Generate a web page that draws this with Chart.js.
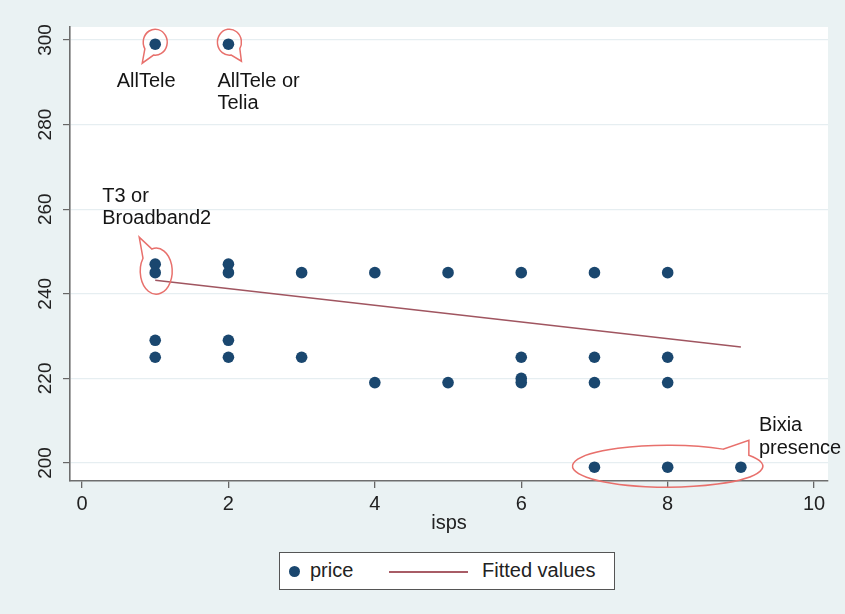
<!DOCTYPE html>
<html><head><meta charset="utf-8">
<script src="https://cdn.jsdelivr.net/npm/chart.js@4.4.1/dist/chart.umd.min.js"></script>
<style>
html,body{margin:0;padding:0;background:#eaf2f3;}
#wrap{position:relative;width:845px;height:614px;overflow:hidden;}
canvas{display:block;}
#legend{position:absolute;left:279px;top:552px;width:334px;height:36px;background:#fff;border:1px solid #555;font-family:'Liberation Sans',Arial,sans-serif;font-size:20px;color:#222;}
#legend .dot{position:absolute;left:9px;top:13px;width:11px;height:11px;border-radius:50%;background:#1a476f;}
#legend .t1{position:absolute;left:30px;top:6px;}
#legend .ln{position:absolute;left:109px;top:18px;width:79px;height:2px;background:#a85c66;}
#legend .t2{position:absolute;left:202px;top:6px;}
</style></head>
<body>
<div id="wrap">
<canvas id="c" width="845" height="614"></canvas>
<div id="legend"><span class="dot"></span><span class="t1" id="lg1"></span><span class="ln"></span><span class="t2" id="lg2"></span></div>
</div>
<script>
// ---- data ----
const isps  = [1,1,1,1,1, 2,2,2,2,2, 3,3, 4,4, 5,5, 6,6,6,6, 7,7,7,7, 8,8,8,8, 9];
const price = [299,247,245,229,225, 299,247,245,229,225, 245,225, 245,219, 245,219, 245,225,220,219, 245,225,219,199, 245,225,219,199, 199];
const fitX = [1, 9];
const fitY = [243.2, 227.4];
const xTicks = [0, 2, 4, 6, 8, 10];
const yTicks = [200, 220, 240, 260, 280, 300];
const xTitle = 'isps';
const seriesNames = ['price', 'Fitted values'];
const notes = [
  {lines:['AllTele'], x:1, y:299},
  {lines:['AllTele or','Telia'], x:2, y:299},
  {lines:['T3 or','Broadband2'], x:1, y:247},
  {lines:['Bixia','presence'], x:9, y:199}
];

document.getElementById('lg1').textContent = seriesNames[0];
document.getElementById('lg2').textContent = seriesNames[1];

const FONT = "'Liberation Sans', Arial, Helvetica, sans-serif";
const RED = '#e8706c';

function teardrop(ctx, cx, cy, rx, ry, tx, ty, gap) {
  const t = Math.atan2((ty - cy) / ry, (tx - cx) / rx);
  ctx.beginPath();
  ctx.ellipse(cx, cy, rx, ry, 0, t + gap, t - gap + Math.PI * 2, false);
  ctx.lineTo(tx, ty);
  ctx.closePath();
  ctx.stroke();
}

const decor = {
  id: 'decor',
  beforeDraw(chart) {
    const {ctx, chartArea: a} = chart;
    ctx.save();
    ctx.fillStyle = '#eaf2f3';
    ctx.fillRect(0, 0, chart.width, chart.height);
    ctx.fillStyle = '#ffffff';
    ctx.fillRect(a.left, a.top, a.right - a.left, a.bottom - a.top);
    ctx.restore();
  },
  afterDraw(chart) {
    const {ctx} = chart;
    const xs = chart.scales.x, ys = chart.scales.y;
    ctx.save();
    // rotated y tick labels
    ctx.fillStyle = '#222';
    ctx.font = '19px ' + FONT;
    ctx.textAlign = 'center';
    ctx.textBaseline = 'middle';
    yTicks.forEach(v => {
      const py = ys.getPixelForValue(v);
      ctx.save();
      ctx.translate(46, py);
      ctx.rotate(-Math.PI / 2);
      ctx.fillText(String(v), 0, 0);
      ctx.restore();
    });
    // callouts
    ctx.strokeStyle = RED;
    ctx.lineWidth = 1.5;
    const P = n => ({x: xs.getPixelForValue(n.x), y: ys.getPixelForValue(n.y)});
    const p0 = P(notes[0]), p1 = P(notes[1]), p2 = P(notes[2]), p3 = P(notes[3]);
    teardrop(ctx, p0.x, p0.y - 2, 12, 13, p0.x - 13, p0.y + 19, 0.45);
    teardrop(ctx, p1.x + 1, p1.y - 2, 12, 13, p1.x + 13, p1.y + 17, 0.45);
    teardrop(ctx, p2.x + 1, p2.y + 7, 16, 23, p2.x - 16, p2.y - 27, 0.35);
    // Bixia ellipse with tail
    {
      const cx = xs.getPixelForValue(8), cy = p3.y - 1, rx = (p3.x - cx) + 22, ry = 21;
      const t1 = -0.95, t2 = -0.55;
      ctx.beginPath();
      ctx.ellipse(cx, cy, rx, ry, 0, t2, t1 + Math.PI * 2, false);
      ctx.lineTo(p3.x + 8, p3.y - 27);
      ctx.closePath();
      ctx.stroke();
    }
    // annotation text
    ctx.fillStyle = '#151515';
    ctx.font = '20px ' + FONT;
    ctx.textBaseline = 'middle';
    ctx.textAlign = 'center';
    ctx.fillText(notes[0].lines[0], p0.x - 9, p0.y + 37);
    ctx.textAlign = 'left';
    notes[1].lines.forEach((s, i) => ctx.fillText(s, p1.x - 11, p1.y + 37 + i * 22));
    notes[2].lines.forEach((s, i) => ctx.fillText(s, p2.x - 53, p2.y - 68 + i * 22));
    notes[3].lines.forEach((s, i) => ctx.fillText(s, p3.x + 18, p3.y - 42 + i * 23));
    ctx.restore();
  }
};

new Chart(document.getElementById('c'), {
  type: 'scatter',
  data: {
    datasets: [
      {
        label: seriesNames[1],
        data: fitX.map((x, i) => ({x, y: fitY[i]})),
        showLine: true, borderColor: '#a05560', borderWidth: 1.6,
        pointRadius: 0, pointHoverRadius: 0, fill: false, tension: 0, order: 0
      },
      {
        label: seriesNames[0],
        data: isps.map((x, i) => ({x, y: price[i]})),
        backgroundColor: '#1a476f', borderColor: '#1a476f', borderWidth: 0,
        pointRadius: 5.8, pointHoverRadius: 5.8, order: 1
      }
    ]
  },
  options: {
    responsive: false, animation: false, devicePixelRatio: 1,
    layout: {padding: {left: 0, top: 27, right: 17, bottom: 76}},
    plugins: {legend: {display: false}, tooltip: {enabled: false}},
    scales: {
      x: {
        type: 'linear', min: -0.164, max: 10.19,
        afterBuildTicks: s => { s.ticks = xTicks.map(v => ({value: v})); },
        afterFit: s => { s.height = 57; },
        grid: {display: true, drawOnChartArea: false, drawTicks: true, tickLength: 7, tickColor: '#666', lineWidth: 1.3},
        border: {display: true, color: '#6e6e6e', width: 1.6},
        ticks: {font: {family: FONT, size: 20}, color: '#222', padding: 4, maxRotation: 0, autoSkip: false},
        title: {display: true, text: xTitle, font: {family: FONT, size: 20}, color: '#222', padding: {top: 4, bottom: 3}}
      },
      y: {
        type: 'linear', min: 195.74, max: 303.07,
        afterBuildTicks: s => { s.ticks = yTicks.map(v => ({value: v})); },
        afterFit: s => { s.width = 70; },
        grid: {display: true, drawOnChartArea: true, color: '#e6eef1', lineWidth: 1.2, drawTicks: true, tickLength: 7, tickColor: '#666'},
        border: {display: true, color: '#6e6e6e', width: 1.6},
        ticks: {font: {family: FONT, size: 18}, color: 'rgba(0,0,0,0)', padding: 4, autoSkip: false}
      }
    }
  },
  plugins: [decor]
});
</script>
</body></html>
